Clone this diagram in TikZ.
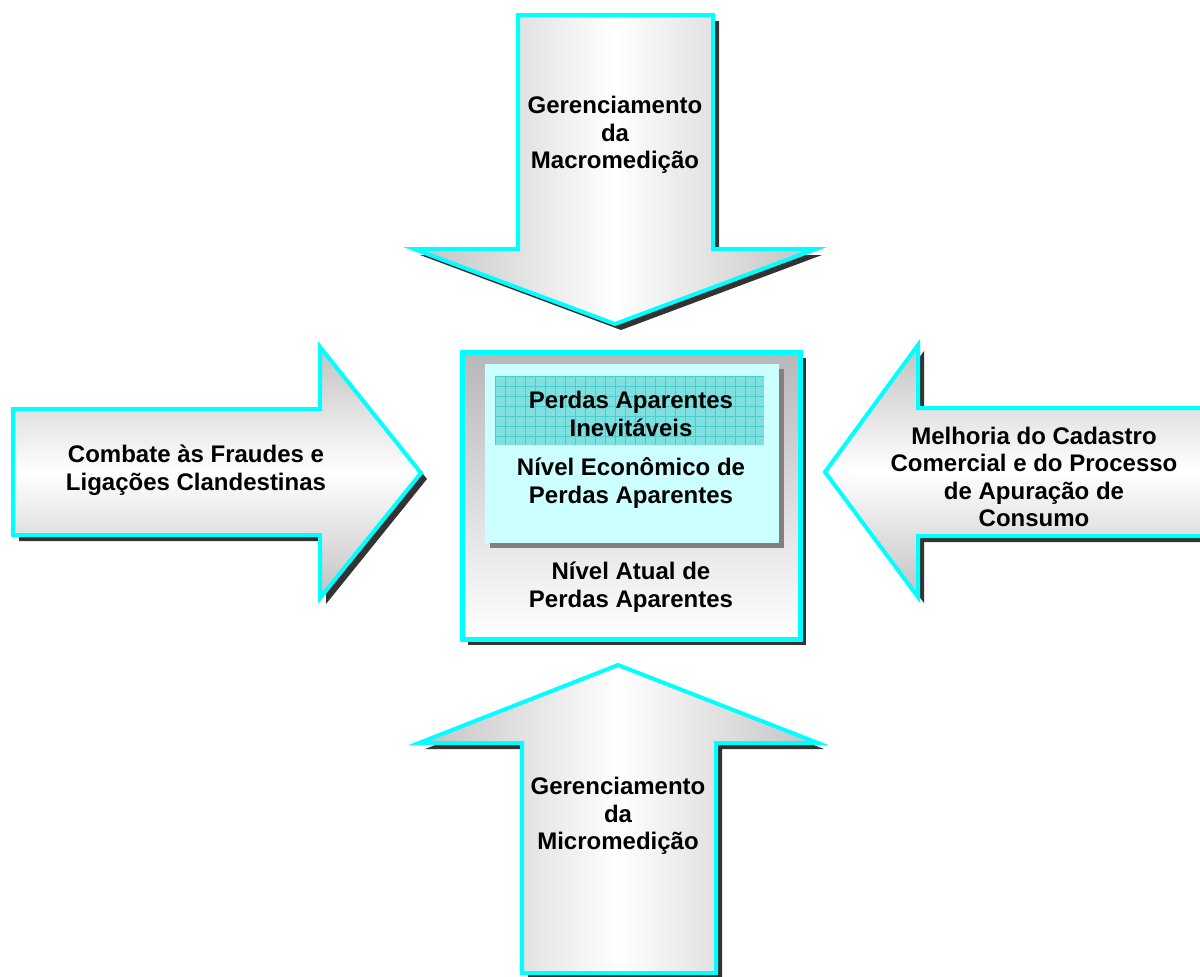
\documentclass[tikz,border=0pt]{standalone}
\usepackage{fontspec}
\setmainfont{Liberation Sans}
\usepackage{tikz, xcolor}
\usetikzlibrary{arrows.meta}

\definecolor{edgecyan}{RGB}{0,255,255}
\definecolor{shadowgray}{RGB}{51,51,51}
\definecolor{innercyan}{RGB}{204,255,255}
\definecolor{gridfill}{RGB}{128,224,224}
\definecolor{gridline}{RGB}{72,204,204}

\begin{document}
\begin{tikzpicture}[x=0.5pt, y=-0.5pt,
    label/.style={font=\fontsize{12}{13.8}\selectfont\bfseries, align=center, inner sep=0pt},
    arrowedge/.style={draw=edgecyan, line width=2pt, line join=miter},
    vshade/.style={left color=black!24, right color=black!24, middle color=white},
    hshade/.style={top color=black!24, bottom color=black!24, middle color=white},
    dropshadow/.style={fill=shadowgray, draw=none}]
    % Frame
    \clip (0,0) rectangle (1200,976);
    \fill[white] (0,0) rectangle (1200,976);

    % Top arrow
    \fill[dropshadow, shift={(6,6)}] (518,15) -- (713,15) -- (713,249) -- (816,249) -- (615,324) -- (414,249) -- (518,249) -- cycle;
    \path[arrowedge, vshade] (518,15) -- (713,15) -- (713,249) -- (816,249) -- (615,324) -- (414,249) -- (518,249) -- cycle;
    % Bottom arrow
    \fill[dropshadow, shift={(6,6)}] (618,665) -- (818,743) -- (716,743) -- (716,973) -- (522,973) -- (522,743) -- (419,743) -- cycle;
    \path[arrowedge, vshade] (618,665) -- (818,743) -- (716,743) -- (716,973) -- (522,973) -- (522,743) -- (419,743) -- cycle;
    % Left arrow
    \fill[dropshadow, shift={(6,6)}] (13,409) -- (320,409) -- (320,347) -- (421,473) -- (320,598) -- (320,535) -- (13,535) -- cycle;
    \path[arrowedge, hshade] (13,409) -- (320,409) -- (320,347) -- (421,473) -- (320,598) -- (320,535) -- (13,535) -- cycle;
    % Right arrow
    \fill[dropshadow, shift={(6,6)}] (825,472) -- (918,345) -- (918,408) -- (1215,408) -- (1215,536) -- (918,536) -- (918,597) -- cycle;
    \path[arrowedge, hshade] (825,472) -- (918,345) -- (918,408) -- (1215,408) -- (1215,536) -- (918,536) -- (918,597) -- cycle;

    % Centre box
    \fill[dropshadow] (468,358) rectangle (806,645);
    \path[draw=edgecyan, line width=2.5pt, top color=black!28, bottom color=white] (462,352) rectangle (800,639);
    % Inner box
    \fill[black!50] (490,369) rectangle (784,548);
    \fill[innercyan] (485,364) rectangle (779,543);
    % Grid box
    \fill[gridfill] (495,376) rectangle (764,445);
    \foreach \gx in {495,505,...,764}
    {
        \draw[gridline, line width=0.4pt] (\gx,376) -- (\gx,445);
    }
    \foreach \gy in {376,386,...,445}
    {
        \draw[gridline, line width=0.4pt] (495,\gy) -- (764,\gy);
    }

    % Texts
    \node[label] (macro) at (615,135) {Gerenciamento\\da\\Macromedição};
    \node[label] (micro) at (618,816) {Gerenciamento\\da\\Micromedição};
    \node[label] (fraudes) at (196,470) {Combate às Fraudes e\\Ligações Clandestinas};
    \node[label] (cadastro) at (1034,477) {Melhoria do Cadastro\\Comercial e do Processo\\de Apuração de\\Consumo};
    \node[label] (inevitaveis) at (631,414) {Perdas Aparentes\\Inevitáveis};
    \node[label] (economico) at (631,483) {Nível Econômico de\\Perdas Aparentes};
    \node[label] (atual) at (631,587) {Nível Atual de\\Perdas Aparentes};
\end{tikzpicture}
\end{document}
